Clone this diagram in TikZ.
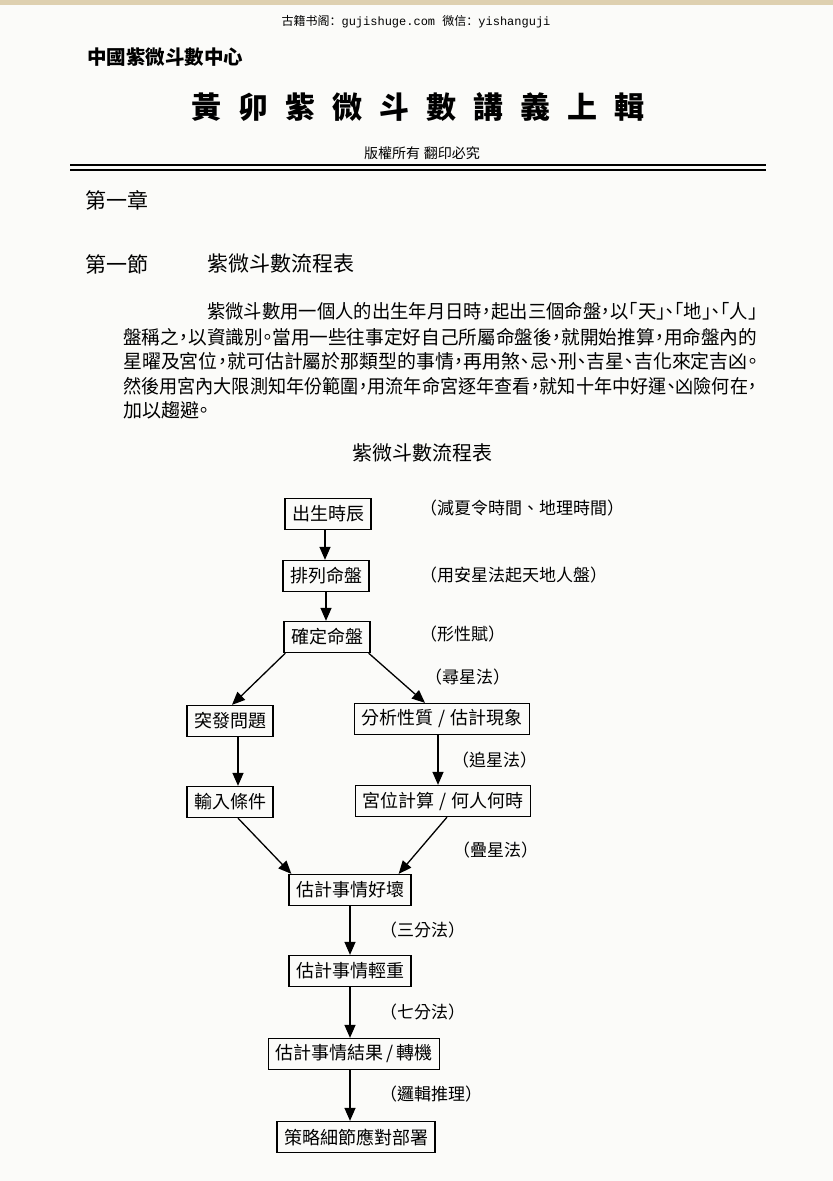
\documentclass[tikz,border=0pt]{standalone}
\usepackage{fontspec}
\usepackage{graphicx}
\setmainfont{Noto Sans CJK TC}
\newfontfamily\halffont[RawFeature=+halt]{Noto Sans CJK TC}
\newfontfamily\scfont{Noto Sans CJK SC}
\newfontfamily\markfont{Liberation Mono}
\usetikzlibrary{positioning, arrows.meta}

\definecolor{paper}{RGB}{251,251,249}
\definecolor{band}{RGB}{222,208,176}
\newcommand{\fsz}[1]{\fontsize{#1bp}{#1bp}\selectfont}
\newcommand{\fitline}[2]{\resizebox{#1bp}{\height}{#2}}

\begin{document}
\begin{tikzpicture}[
    x=1bp, y=-1bp,
    >={Triangle[width=11bp, length=13bp]},
    flowbox/.style={draw, line width=1.3bp, inner xsep=7bp, inner ysep=0pt, minimum height=31bp, font=\fsz{18}},
    note/.style={anchor=west, inner sep=0pt, font=\fsz{17}},
    txt/.style={anchor=west, inner sep=0pt},
    bodyline/.style={anchor=west, inner sep=0pt, font=\halffont\fsz{19}},
    flow/.style={->, line width=1.3bp}
]

% page and margins
\useasboundingbox (0,0) rectangle (833,1181);
\fill[paper] (0,0) rectangle (833,1181);
\fill[band] (0,0) rectangle (833,5);

% Page header
\node[inner sep=0pt, font=\fsz{12}] (mark) at (416,22) {\scfont 古籍书阁：\markfont gujishuge.com \scfont 微信：\markfont yishanguji};
\node[txt, font=\bfseries\fsz{19.5}] (centre) at (87,57) {中國紫微斗數中心};
\node[inner sep=0pt, font=\bfseries\fsz{30}] (booktitle) at (418,107) {黃\hspace{17bp}卯\hspace{17bp}紫\hspace{17bp}微\hspace{17bp}斗\hspace{17bp}數\hspace{17bp}講\hspace{17bp}義\hspace{17bp}上\hspace{17bp}輯};
\node[inner sep=0pt, font=\fsz{14}] (rights) at (422,153) {版權所有\hspace{4bp}翻印必究};
\coordinate (rule_l) at (70,165);
\coordinate (rule_r) at (766,165);
\draw[line width=2.6bp] (rule_l) -- (rule_r);
\draw[line width=1.2bp] ([yshift=-5bp]rule_l) -- ([yshift=-5bp]rule_r);

% Chapter and section
\node[txt, font=\fsz{21}] (chapter) at (85,200) {第一章};
\node[txt, font=\fsz{21}] (section) at (85,264) {第一節};
\node[txt, font=\fsz{21}] (sectitle) at (207,264) {紫微斗數流程表};

% Paragraph
\node[bodyline] (par1) at (207,311) {\fitline{550}{紫微斗數用一個人的出生年月日時，起出三個命盤，以「天」、「地」、「人」}};
\node[bodyline] (par2) at (123,337) {\fitline{634}{盤稱之，以資識別。當用一些往事定好自己所屬命盤後，就開始推算，用命盤內的}};
\node[bodyline] (par3) at (123,361) {\fitline{634}{星曜及宮位，就可估計屬於那類型的事情，再用煞、忌、刑、吉星、吉化來定吉凶。}};
\node[bodyline] (par4) at (123,386) {\fitline{634}{然後用宮內大限測知年份範圍，用流年命宮逐年查看，就知十年中好運、凶險何在，}};
\node[bodyline] (par5) at (123,410) {加以趨避。};

% Flow chart
\node[inner sep=0pt, font=\fsz{20}] (charttitle) at (422,453) {紫微斗數流程表};

\node[flowbox] (birth) at (328,514) {出生時辰};
\node[flowbox] (arrange) at (326,576) {排列命盤};
\node[flowbox] (fix) at (327,637) {確定命盤};
\node[flowbox] (sudden) at (230,721) {突發問題};
\node[flowbox] (analyse) at (442,719) {分析性質\hspace{5bp}/\hspace{5bp}估計現象};
\node[flowbox] (input) at (230,802) {輸入條件};
\node[flowbox] (palace) at (443,801) {宮位計算\hspace{5bp}/\hspace{5bp}何人何時};
\node[flowbox] (goodbad) at (350,890) {估計事情好壞};
\node[flowbox] (weight) at (350,971) {估計事情輕重};
\node[flowbox] (outcome) at (354,1054) {估計事情結果\hspace{3bp}/\hspace{3bp}轉機};
\node[flowbox] (plan) at (356,1137) {策略細節應對部署};

% Notes
\node[note] (n_birth) at (420,508) {（減夏令時間、地理時間）};
\node[note] (n_arrange) at (420,575) {（用安星法起天地人盤）};
\node[note] (n_fix) at (420,634) {（形性賦）};
\node[note] (n_seek) at (425,677) {（尋星法）};
\node[note] (n_chase) at (452,760) {（追星法）};
\node[note] (n_stack) at (453,850) {（疊星法）};
\node[note] (n_three) at (380,930) {（三分法）};
\node[note] (n_seven) at (380,1012) {（七分法）};
\node[note] (n_logic) at (380,1094) {（邏輯推理）};

% Connectors
\draw[flow] ([xshift=-3bp]birth.south) -- ([xshift=-3bp]birth.south |- arrange.north);
\draw[flow] (arrange.south) -- (arrange.south |- fix.north);
\draw[flow] ([xshift=2bp]fix.south west) -- ([xshift=2bp]sudden.north);
\draw[flow] ([xshift=-2bp]fix.south east) -- ([xshift=-17bp]analyse.north);
\draw[flow] ([xshift=8bp]sudden.south) -- ([xshift=8bp]input.north);
\draw[flow] ([xshift=-4bp]analyse.south) -- ([xshift=-5bp]palace.north);
\draw[flow] ([xshift=8bp]input.south) -- ([xshift=3bp]goodbad.north west);
\draw[flow] ([xshift=4bp]palace.south) -- ([xshift=-13bp]goodbad.north east);
\draw[flow] (goodbad.south) -- (weight.north);
\draw[flow] (weight.south) -- (weight.south |- outcome.north);
\draw[flow] ([xshift=-4bp]outcome.south) -- ([xshift=-4bp]outcome.south |- plan.north);

\end{tikzpicture}
\end{document}
